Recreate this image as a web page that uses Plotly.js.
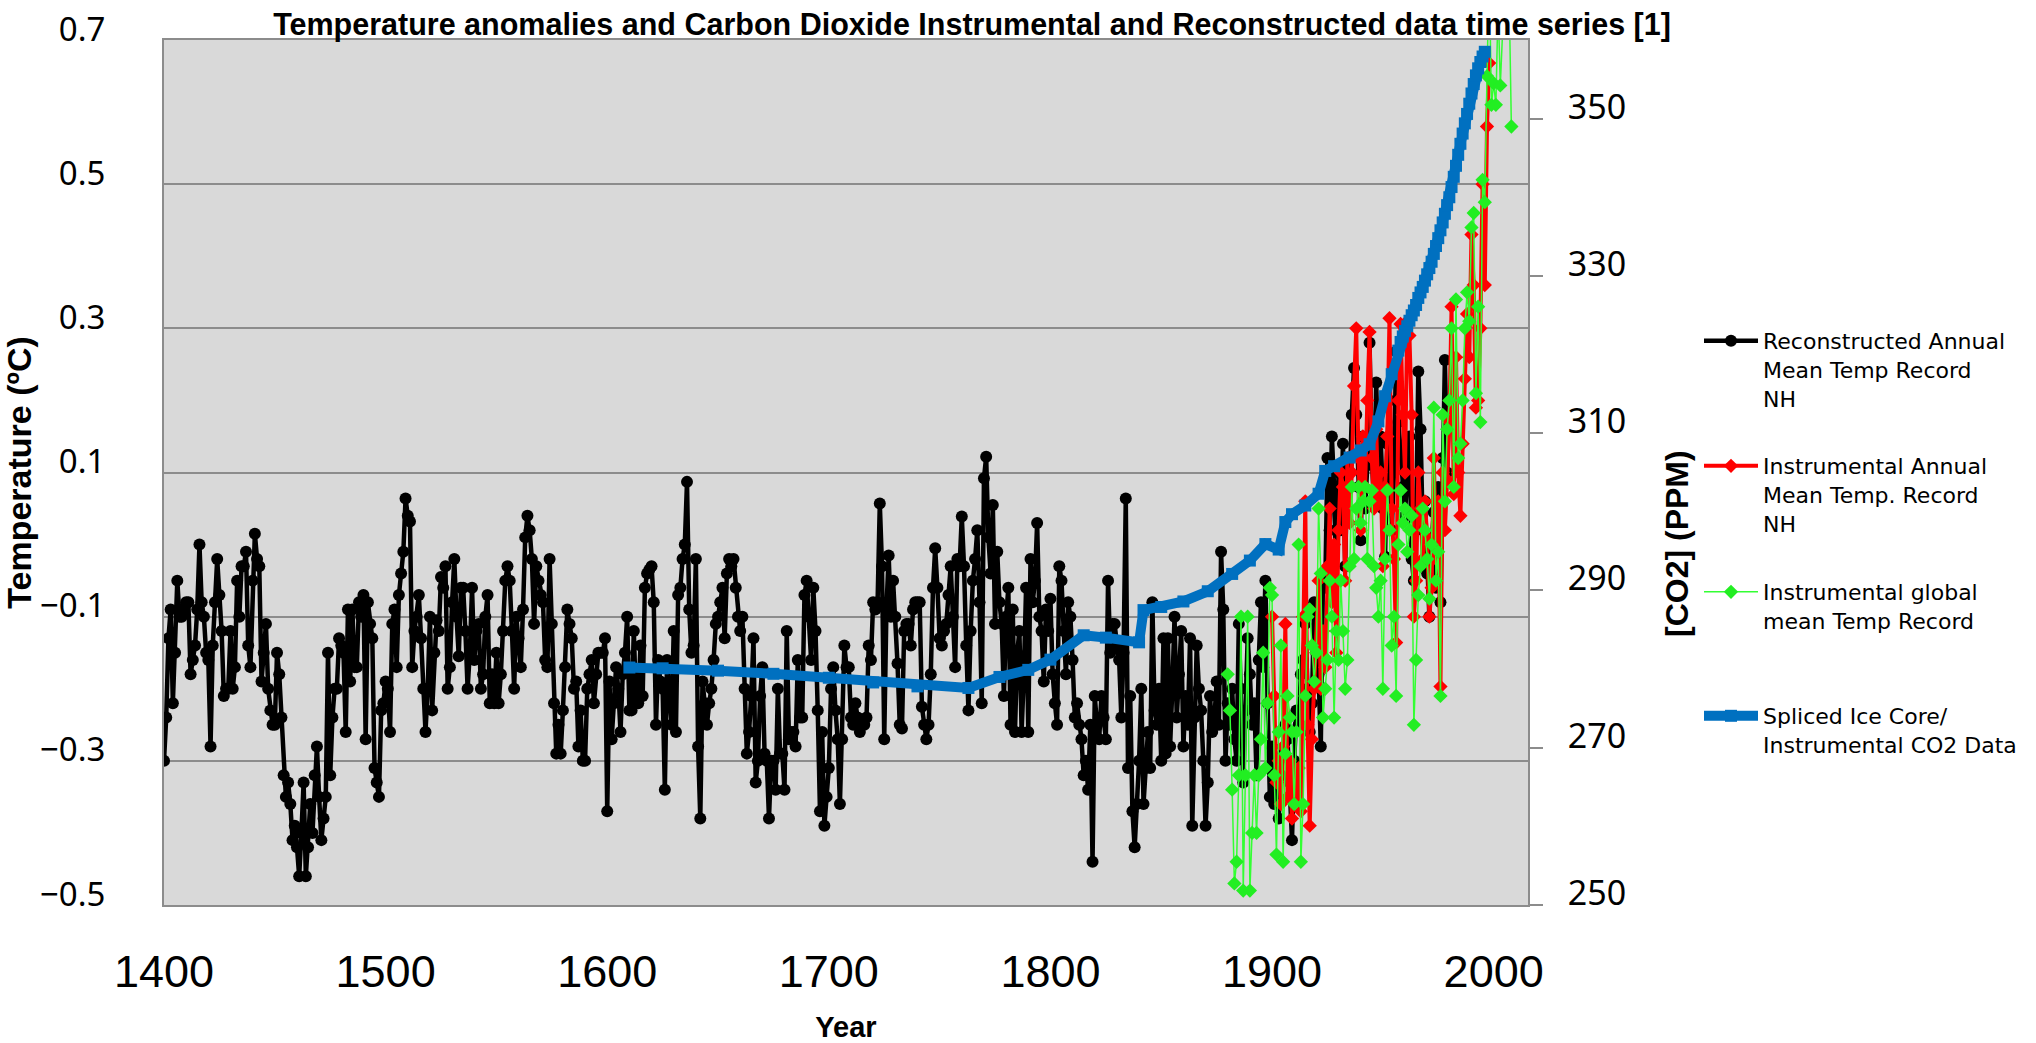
<!DOCTYPE html>
<html><head><meta charset="utf-8">
<script src="https://cdn.plot.ly/plotly-3.0.1.min.js"></script>
<style>html,body{margin:0;padding:0;background:#fff;}#chart{width:2036px;height:1043px;}</style>
</head><body><div id="chart"></div>
<script>
// ---------- DATA ----------
const reconStartYear = 1400;
const recon1400s = [-0.30,-0.24,-0.13,-0.09,-0.22,-0.15,-0.05,-0.10,-0.10,-0.09,
 -0.08,-0.08,-0.18,-0.16,-0.14,-0.09,0.00,-0.08,-0.10,-0.15,
 -0.16,-0.28,-0.14,-0.08,-0.02,-0.07,-0.12,-0.21,-0.20,-0.20,
 -0.12,-0.20,-0.17,-0.05,-0.10,-0.03,-0.03,-0.01,-0.14,-0.17,
 -0.05,0.015,-0.02,-0.03,-0.19,-0.15,-0.11,-0.20,-0.23,-0.25,
 -0.25,-0.15,-0.18,-0.24,-0.32,-0.35,-0.33,-0.36,-0.41,-0.39,
 -0.42,-0.46,-0.40,-0.33,-0.46,-0.42,-0.36,-0.40,-0.32,-0.28,
 -0.35,-0.41,-0.38,-0.35,-0.15,-0.32,-0.24,-0.20,-0.20,-0.13,
 -0.14,-0.15,-0.26,-0.09,-0.19,-0.09,-0.17,-0.17,-0.08,-0.10,
 -0.07,-0.27,-0.08,-0.11,-0.13,-0.31,-0.33,-0.35,-0.23,-0.22];
const recon1500s = [-0.19,-0.20,-0.26,-0.11,-0.09,-0.17,-0.07,-0.04,-0.01,0.064,
 0.04,0.032,-0.17,-0.12,-0.10,-0.07,-0.13,-0.20,-0.26,-0.20,
 -0.10,-0.23,-0.15,-0.105,-0.12,-0.045,-0.06,-0.03,-0.20,-0.17,
 -0.08,-0.02,-0.10,-0.155,-0.06,-0.06,-0.12,-0.20,-0.15,-0.06,
 -0.16,-0.12,-0.11,-0.20,-0.18,-0.10,-0.07,-0.22,-0.18,-0.22,
 -0.15,-0.22,-0.18,-0.12,-0.05,-0.03,-0.05,-0.12,-0.20,-0.10,
 -0.13,-0.17,-0.09,0.01,0.04,0.02,-0.02,-0.11,-0.03,-0.05,
 -0.07,-0.08,-0.16,-0.17,-0.02,-0.11,-0.22,-0.29,-0.25,-0.29,
 -0.23,-0.17,-0.09,-0.11,-0.13,-0.20,-0.19,-0.28,-0.23,-0.30,
 -0.30,-0.20,-0.18,-0.16,-0.22,-0.18,-0.15,-0.15,-0.15,-0.13];
const recon1600s = [-0.37,-0.19,-0.27,-0.22,-0.17,-0.20,-0.26,-0.18,-0.15,-0.10,
 -0.23,-0.23,-0.12,-0.22,-0.22,-0.14,-0.21,-0.06,-0.04,-0.035,
 -0.03,-0.08,-0.25,-0.16,-0.19,-0.20,-0.34,-0.16,-0.20,-0.25,
 -0.12,-0.26,-0.07,-0.06,-0.02,0.00,0.087,-0.09,-0.15,-0.14,
 -0.02,-0.28,-0.38,-0.19,-0.22,-0.25,-0.22,-0.20,-0.16,-0.11,
 -0.10,-0.08,-0.06,-0.13,-0.04,-0.02,-0.03,-0.02,-0.06,-0.10,
 -0.12,-0.10,-0.20,-0.29,-0.26,-0.21,-0.13,-0.33,-0.30,-0.21,
 -0.17,-0.29,-0.30,-0.38,-0.30,-0.30,-0.34,-0.20,-0.29,-0.29,
 -0.34,-0.12,-0.27,-0.26,-0.26,-0.28,-0.16,-0.24,-0.24,-0.07,
 -0.05,-0.10,-0.16,-0.06,-0.12,-0.23,-0.37,-0.26,-0.39,-0.35];
const recon1700s = [-0.31,-0.20,-0.17,-0.23,-0.27,-0.36,-0.27,-0.14,-0.17,-0.17,
 -0.24,-0.25,-0.22,-0.24,-0.26,-0.25,-0.25,-0.24,-0.14,-0.16,
 -0.08,-0.09,-0.08,0.057,-0.03,-0.27,-0.09,-0.015,-0.10,-0.05,
 -0.10,-0.165,-0.25,-0.255,-0.12,-0.11,-0.11,-0.14,-0.09,-0.08,
 -0.08,-0.08,-0.225,-0.25,-0.27,-0.25,-0.18,-0.06,-0.005,-0.06,
 -0.13,-0.14,-0.12,-0.11,-0.07,-0.03,-0.10,-0.17,-0.02,-0.03,
 0.039,-0.03,-0.14,-0.23,-0.12,-0.05,-0.02,0.02,-0.08,-0.22,
 0.092,0.122,0.01,-0.04,0.055,-0.11,-0.01,-0.08,-0.11,-0.21,
 -0.10,-0.06,-0.25,-0.09,-0.26,-0.15,-0.12,-0.26,-0.18,-0.06,
 -0.26,-0.02,-0.08,-0.05,0.03,-0.10,-0.12,-0.19,-0.09,-0.12];
const recon1800s = [-0.075,-0.18,-0.22,-0.25,-0.03,-0.05,-0.12,-0.18,-0.08,-0.10,
 -0.16,-0.24,-0.22,-0.25,-0.27,-0.32,-0.30,-0.34,-0.25,-0.44,
 -0.21,-0.25,-0.27,-0.21,-0.24,-0.27,-0.05,-0.15,-0.11,-0.11,
 -0.14,-0.16,-0.24,-0.15,0.064,-0.31,-0.21,-0.37,-0.42,-0.36,
 -0.30,-0.20,-0.36,-0.31,-0.26,-0.31,-0.08,-0.23,-0.25,-0.20,
 -0.30,-0.13,-0.29,-0.13,-0.28,-0.20,-0.10,-0.24,-0.18,-0.12,
 -0.28,-0.21,-0.25,-0.13,-0.39,-0.24,-0.14,-0.20,-0.23,-0.30,
 -0.39,-0.33,-0.21,-0.26,-0.24,-0.19,-0.25,-0.01,-0.09,-0.30,
 -0.22,-0.25,-0.20,-0.27,-0.30,-0.11,-0.20,-0.33,-0.23,-0.13,
 -0.18,-0.25,-0.22,-0.32,-0.16,-0.08,-0.17,-0.05,-0.22,-0.35];
const recon1900s = [-0.28,-0.36,-0.30,-0.38,-0.32,-0.29,-0.25,-0.27,-0.33,-0.41,
 -0.30,-0.23,-0.25,-0.18,-0.16,-0.11,-0.20,-0.26,-0.22,-0.08,
 -0.15,-0.18,-0.28,-0.04,-0.06,0.12,0.02,0.15,0.08,-0.05,
 0.10,0.02,0.14,-0.03,0.12,0.08,0.18,0.245,0.18,0.08,
 0.006,0.15,0.05,0.11,0.28,0.12,0.06,0.225,0.10,0.15,
 0.05,-0.017,0.14,0.20,0.02,0.10,0.268,0.17,0.13,0.08,
 0.04,0.10,0.15,-0.02,-0.05,0.03,0.24,0.16,0.02,0.06,
 -0.04,-0.10,0.00,0.045,-0.06,0.08,-0.08,0.12,0.256,0.10,
 0.20];

const nhInstStartYear = 1900;
const nhInstTemp = [-0.10,-0.21,-0.33,-0.30,-0.36,-0.28,-0.11,-0.35,-0.30,-0.38,
 -0.31,-0.35,-0.31,-0.37,-0.10,0.06,-0.25,-0.39,-0.27,-0.20,
 -0.15,-0.05,-0.20,-0.12,-0.17,-0.03,0.05,-0.08,0.00,-0.15,
 0.02,0.10,0.08,-0.05,0.12,0.03,0.10,0.22,0.30,0.12,
 0.02,0.15,0.08,0.20,0.295,0.12,0.05,0.16,0.06,0.10,
 -0.03,0.08,0.15,0.314,0.05,-0.02,-0.136,0.20,0.306,0.18,
 0.10,0.31,0.29,0.18,-0.10,-0.05,0.10,0.05,-0.02,0.06,
 0.01,-0.10,-0.06,0.12,-0.02,0.06,-0.197,0.10,0.02,0.09,
 0.17,0.33,0.07,0.26,0.10,0.04,0.14,0.23,0.32,0.26,
 0.43,0.36,0.19,0.20,0.30,0.50,0.36,0.58,0.668];

const globalStartYear = 1880;
const globalTemp = [-0.18,-0.23,-0.34,-0.47,-0.44,-0.32,-0.10,-0.48,-0.32,-0.10,
 -0.48,-0.40,-0.32,-0.40,-0.32,-0.27,-0.15,-0.31,-0.22,-0.06,
 -0.07,-0.32,-0.43,-0.26,-0.14,-0.44,-0.29,-0.21,-0.24,-0.26,
 -0.36,-0.26,0.00,-0.44,-0.36,-0.21,-0.10,-0.09,-0.14,-0.19,
 -0.15,0.05,-0.04,-0.24,-0.20,-0.16,-0.05,-0.10,-0.24,-0.12,
 -0.16,-0.05,-0.12,-0.20,-0.16,-0.03,0.08,-0.02,0.05,0.08,
 0.03,0.06,0.08,-0.02,0.06,0.075,-0.03,-0.06,-0.10,-0.05,
 -0.20,-0.02,0.075,0.02,-0.14,-0.10,-0.21,0.00,0.075,0.03,
 0.05,-0.01,0.02,0.04,-0.25,-0.16,-0.07,-0.03,0.05,0.02,
 -0.02,-0.075,0.00,0.19,-0.05,-0.01,-0.21,0.18,0.06,0.16,
 0.20,0.30,0.08,0.34,0.12,0.14,0.20,0.30,0.35,0.31,
 0.44,0.46,0.21,0.33,0.17,0.506,0.475,0.65,0.80,0.61,
 0.64,0.61,0.75,0.637,0.72,0.78,0.74,0.76,0.58];

const co2Years = [1610,1625,1650,1675,1700,1720,1740,1763,1777,1790,1800,1815,1825,1840,1842,1850,1860,1871,1882,1890,1897,1903,1906,1909,1915,1921,1924,1928,1935,1940,1944,1948,1951,1954,1957,
 1958,1959,1960,1961,1962,1963,1964,1965,1966,1967,1968,1969,1970,1971,1972,1973,1974,1975,1976,1977,1978,1979,1980,1981,1982,1983,1984,1985,1986,1987,1988,1989,1990,1991,1992,1993,1994,1995,1996];
const co2Ppm = [280.2,280.1,279.8,279.4,278.9,278.3,277.8,277.6,279.0,279.9,281.2,284.3,284.0,283.4,287.5,287.9,288.6,289.9,292.1,293.8,295.9,295.2,298.7,299.7,300.8,302.3,305.2,305.8,306.9,307.8,308.6,311.5,314.7,317.5,320.5,
 321.6,322.3,323.0,323.6,324.3,325.0,325.6,326.3,327.2,327.9,328.6,329.4,330.2,331.0,331.8,332.8,333.8,334.8,335.8,336.8,337.9,339.0,340.0,341.3,342.6,344.0,345.4,346.8,348.1,349.4,350.6,351.9,353.2,354.4,355.5,356.4,357.2,357.9,358.5];

const yearTicks = [1400,1500,1600,1700,1800,1900,2000];
const tempTicks = [-0.5,-0.3,-0.1,0.1,0.3,0.5,0.7];
const co2Ticks = [250,270,290,310,330,350];

const seriesNames = [
 'Reconstructed Annual<br>Mean Temp Record<br>NH',
 'Instrumental Annual<br>Mean Temp. Record<br>NH',
 'Instrumental global<br>mean Temp Record',
 'Spliced Ice Core/<br>Instrumental CO2 Data'];

// ---------- BUILD ----------
const reconTemp = [].concat(recon1400s, recon1500s, recon1600s, recon1700s, recon1800s, recon1900s);
const reconYears = reconTemp.map((_, i) => reconStartYear + i);
const nhYears = nhInstTemp.map((_, i) => nhInstStartYear + i);
const glYears = globalTemp.map((_, i) => globalStartYear + i);

const traces = [
 {x: reconYears, y: reconTemp, name: seriesNames[0], type: 'scatter', mode: 'lines+markers',
  line: {color: '#000000', width: 4.5}, marker: {symbol: 'circle', size: 12, color: '#000000'}, legend: 'legend'},
 {x: nhYears, y: nhInstTemp, name: seriesNames[1], type: 'scatter', mode: 'lines+markers',
  line: {color: '#FF0000', width: 4}, marker: {symbol: 'diamond', size: 11, color: '#FF0000'}, legend: 'legend2'},
 {x: glYears, y: globalTemp, name: seriesNames[2], type: 'scatter', mode: 'lines+markers',
  line: {color: '#33FF33', width: 1.5}, marker: {symbol: 'diamond', size: 11, color: '#22EE22'}, legend: 'legend3'},
 {x: co2Years, y: co2Ppm, name: seriesNames[3], type: 'scatter', mode: 'lines+markers', yaxis: 'y2',
  line: {color: '#0070C0', width: 10}, marker: {symbol: 'square', size: 12, color: '#0070C0'}, legend: 'legend4'}
];

const W = 2036, H = 1043, L = 164, R = 1528, T = 40, B = 905;
const px2x = p => (p - L) / (R - L);
const px2y = p => (B - p) / (B - T);
const legendFont = {family: 'DejaVu Sans', size: 22, color: '#000'};
function mkLegend(topPx) {
 return {x: px2x(1699), y: px2y(topPx), xanchor: 'left', yanchor: 'top', bgcolor: 'rgba(0,0,0,0)',
  font: legendFont, itemwidth: 54, valign: 'top', borderwidth: 0};
}

const layout = {
 width: W, height: H, paper_bgcolor: '#ffffff', plot_bgcolor: '#D9D9D9',
 margin: {l: L, r: W - R, t: T, b: H - B, pad: 0},
 title: {text: '<b>Temperature anomalies and Carbon Dioxide Instrumental and Reconstructed data time series [1]</b>',
  font: {family: 'Liberation Sans, Arial, sans-serif', size: 30.5, color: '#000'},
  x: 972 / W, xanchor: 'center', xref: 'container', y: 1 - 24 / H, yanchor: 'middle', yref: 'container'},
 xaxis: {range: [1400, 2015.5], tickvals: yearTicks, ticks: '', showgrid: false, zeroline: false,
  showline: true, mirror: true, linecolor: '#8C8C8C', linewidth: 2,
  tickfont: {family: 'Liberation Sans, Arial, sans-serif', size: 45, color: '#000'}, ticklabelstandoff: 26,
  title: {text: '<b>Year</b>', font: {family: 'Liberation Sans, Arial, sans-serif', size: 29, color: '#000'}, standoff: 24}},
 yaxis: {range: [-0.5, 0.7], tickvals: tempTicks, tickformat: '.1f', ticks: '', showgrid: true, gridcolor: '#8C8C8C', gridwidth: 2,
  zeroline: false, showline: true, mirror: true, linecolor: '#8C8C8C', linewidth: 2,
  tickfont: {family: 'Noto Sans, sans-serif', size: 33, color: '#000'}, ticklabelstandoff: 50, ticklabelshift: -11,
  title: {text: '<b>Temperature (ºC)</b>', font: {family: 'Liberation Sans, Arial, sans-serif', size: 34, color: '#000'}, standoff: 1}},
 yaxis2: {range: [250, 360], tickvals: co2Ticks, overlaying: 'y', side: 'right', showgrid: false, zeroline: false,
  ticks: 'outside', ticklen: 13, tickwidth: 2, tickcolor: '#8C8C8C', showline: true, linecolor: '#8C8C8C', linewidth: 2,
  tickfont: {family: 'Noto Sans, sans-serif', size: 34, color: '#000'}, ticklabelstandoff: 18, ticklabelshift: -12},
 showlegend: true,
 legend: mkLegend(320), legend2: mkLegend(445), legend3: mkLegend(571), legend4: mkLegend(695),
 annotations: [{text: '<b>[CO2] (PPM)</b>', textangle: -90, xref: 'paper', yref: 'paper', x: px2x(1677), y: px2y(543),
  xanchor: 'center', yanchor: 'middle', showarrow: false,
  font: {family: 'Liberation Sans, Arial, sans-serif', size: 32, color: '#000'}}]
};

Plotly.newPlot('chart', traces, layout, {displayModeBar: false, responsive: false});
</script></body></html>
